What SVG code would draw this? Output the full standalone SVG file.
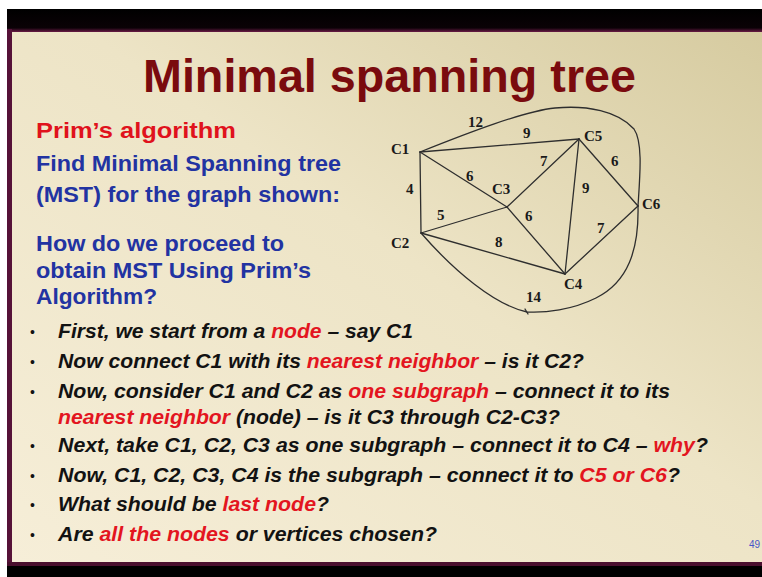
<svg xmlns="http://www.w3.org/2000/svg" width="762" height="577" viewBox="0 0 762 577">
  <defs>
    <linearGradient id="slideBg" x1="0" y1="1" x2="1" y2="0">
      <stop offset="0" stop-color="#f6eed8"/>
      <stop offset="0.55" stop-color="#ede4c6"/>
      <stop offset="1" stop-color="#d6cba0"/>
    </linearGradient>
    <linearGradient id="topEdge" x1="0" y1="0" x2="0" y2="1">
      <stop offset="0" stop-color="#000000"/>
      <stop offset="0.82" stop-color="#0a0206"/>
      <stop offset="1" stop-color="#6a1a46"/>
    </linearGradient>
    <style>
      .title { font-family: "Liberation Sans", Arial, sans-serif; font-weight: bold; font-size: 47px; fill: #7a0b0e; }
      .side { font-family: "Liberation Sans", Arial, sans-serif; font-weight: bold; font-size: 22px; fill: #2233a2; }
      .side-red { fill: #e0121c; }
      .item { font-family: "Liberation Sans", Arial, sans-serif; font-weight: bold; font-style: italic; font-size: 21px; fill: #121212; }
      .item.tight { font-size: 20px; }
      .hl { fill: #e3151f; }
      .dot { font-family: "Liberation Sans", Arial, sans-serif; font-size: 14px; fill: #121212; }
      .edge { fill: none; stroke: #2e2e2e; stroke-width: 1.3; stroke-linecap: round; }
      .w, .lbl { font-family: "Liberation Serif", "Times New Roman", serif; font-weight: bold; font-size: 15px; fill: #1a1a1a; }
      .pg { font-family: "Liberation Sans", Arial, sans-serif; font-size: 10px; fill: #4656c8; }
    </style>
  </defs>

  <!-- screen frame -->
  <rect x="0" y="0" width="762" height="577" fill="#ffffff"/>
  <rect x="7" y="9" width="755" height="23" fill="url(#topEdge)"/>
  <rect x="7" y="29" width="5" height="537" fill="#561238"/>
  <rect x="7" y="562" width="755" height="4" fill="#4a0f2e"/>
  <rect x="7" y="566" width="755" height="11" fill="#000000"/>

  <!-- slide background -->
  <rect x="12" y="32" width="750" height="530" fill="url(#slideBg)"/>

  <!-- heading -->
  <text class="title" x="143" y="92" textLength="493" lengthAdjust="spacingAndGlyphs">Minimal spanning tree</text>

  <!-- left column -->
  <g id="intro">
    <text class="side side-red" x="36" y="138" textLength="200" lengthAdjust="spacingAndGlyphs">Prim’s algorithm</text>
    <text class="side" x="36" y="171" textLength="305" lengthAdjust="spacingAndGlyphs">Find Minimal Spanning tree</text>
    <text class="side" x="36" y="202" textLength="304" lengthAdjust="spacingAndGlyphs">(MST) for the graph shown:</text>
    <text class="side" x="36" y="251" textLength="248" lengthAdjust="spacingAndGlyphs">How do we proceed to</text>
    <text class="side" x="36" y="278" textLength="275" lengthAdjust="spacingAndGlyphs">obtain MST Using Prim’s</text>
    <text class="side" x="36" y="304" textLength="121" lengthAdjust="spacingAndGlyphs">Algorithm?</text>
  </g>

  <!-- graph edges -->
  <g id="connectors">
    <line class="edge" x1="420" y1="152" x2="421" y2="233"/>
    <line class="edge" x1="420" y1="152" x2="579" y2="139"/>
    <line class="edge" x1="420" y1="152" x2="507" y2="207"/>
    <line class="edge" x1="421" y1="233" x2="507" y2="207"/>
    <line class="edge" x1="421" y1="233" x2="565" y2="274"/>
    <line class="edge" x1="507" y1="207" x2="579" y2="139"/>
    <line class="edge" x1="507" y1="207" x2="565" y2="274"/>
    <line class="edge" x1="579" y1="139" x2="565" y2="274"/>
    <line class="edge" x1="579" y1="139" x2="638" y2="206"/>
    <line class="edge" x1="638" y1="206" x2="565" y2="274"/>
    <!-- C1 to C6 over the top -->
    <path class="edge" d="M420 152 C470 132 525 111 555 108 C587 105 618 111 634 129 C643 142 640 175 638 206"/>
    <!-- C6 to C2 round the bottom -->
    <path class="edge" d="M638 206 C639 250 628 282 596 298 C572 310 545 313 527 312 C495 305 455 272 421 233"/>
    <path class="edge" d="M525 309 L528 314"/>

    <text class="w" x="468" y="127">12</text>
    <text class="w" x="523" y="138">9</text>
    <text class="w" x="406" y="194">4</text>
    <text class="w" x="466" y="181">6</text>
    <text class="w" x="540" y="166">7</text>
    <text class="w" x="611" y="166">6</text>
    <text class="w" x="437" y="220">5</text>
    <text class="w" x="525" y="221">6</text>
    <text class="w" x="582" y="193">9</text>
    <text class="w" x="597" y="233">7</text>
    <text class="w" x="495" y="247">8</text>
    <text class="w" x="526" y="302">14</text>
  </g>

  <!-- graph vertices -->
  <g id="node-c1"><text class="lbl" x="391" y="154">C1</text></g>
  <g id="node-c2"><text class="lbl" x="391" y="248">C2</text></g>
  <g id="node-c3"><text class="lbl" x="492" y="194">C3</text></g>
  <g id="node-c4"><text class="lbl" x="564" y="289">C4</text></g>
  <g id="node-c5"><text class="lbl" x="584" y="141">C5</text></g>
  <g id="node-c6"><text class="lbl" x="642" y="209">C6</text></g>

  <!-- bullet list -->
  <g id="steps">
    <text class="dot" x="30" y="337">•</text>
    <text class="item" x="58" y="338" textLength="355" lengthAdjust="spacingAndGlyphs">First, we start from a <tspan class="hl">node</tspan> – say C1</text>
    <text class="dot" x="30" y="367">•</text>
    <text class="item" x="58" y="368" textLength="526" lengthAdjust="spacingAndGlyphs">Now connect C1 with its <tspan class="hl">nearest neighbor</tspan> – is it C2?</text>
    <text class="dot" x="30" y="397">•</text>
    <text class="item" x="58" y="398" textLength="612" lengthAdjust="spacingAndGlyphs">Now, consider C1 and C2 as <tspan class="hl">one subgraph</tspan> – connect it to its</text>
    <text class="item" x="58" y="424" textLength="502" lengthAdjust="spacingAndGlyphs"><tspan class="hl">nearest neighbor</tspan> (node) – is it C3 through C2-C3?</text>
    <text class="dot" x="30" y="451">•</text>
    <text class="item tight" x="58" y="452" textLength="650" lengthAdjust="spacingAndGlyphs">Next, take C1, C2, C3 as one subgraph – connect it to C4 – <tspan class="hl">why</tspan>?</text>
    <text class="dot" x="30" y="481">•</text>
    <text class="item" x="58" y="482" textLength="622" lengthAdjust="spacingAndGlyphs">Now, C1, C2, C3, C4 is the subgraph – connect it to <tspan class="hl">C5 or C6</tspan>?</text>
    <text class="dot" x="30" y="510">•</text>
    <text class="item" x="58" y="511" textLength="271" lengthAdjust="spacingAndGlyphs">What should be <tspan class="hl">last node</tspan>?</text>
    <text class="dot" x="30" y="540">•</text>
    <text class="item" x="58" y="541" textLength="379" lengthAdjust="spacingAndGlyphs">Are <tspan class="hl">all the nodes</tspan> or vertices chosen?</text>
  </g>

  <text class="pg" x="749" y="548">49</text>
</svg>
